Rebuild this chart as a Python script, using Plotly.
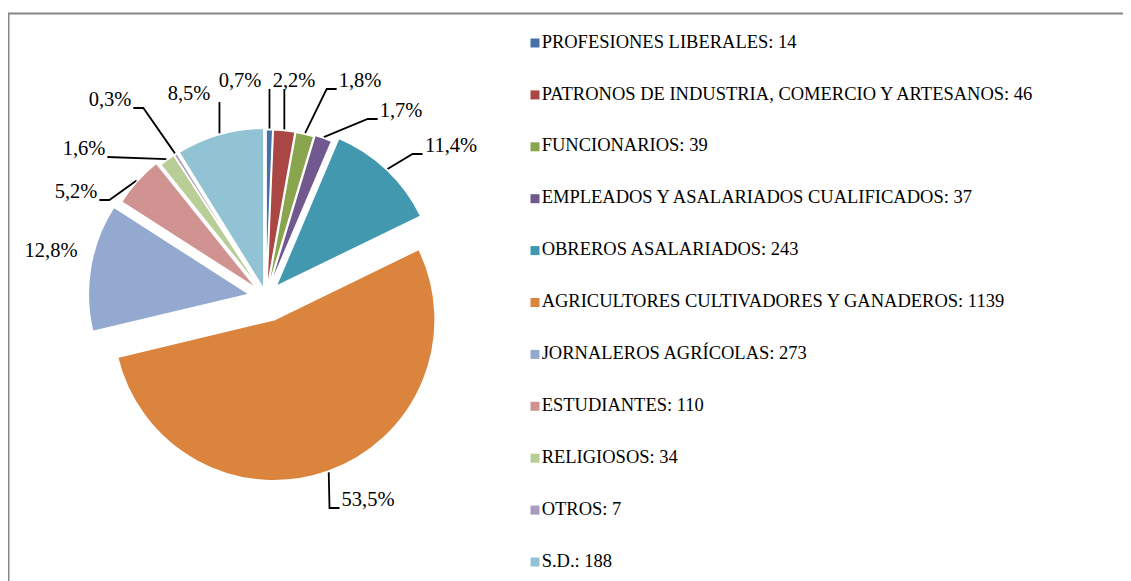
import math
import plotly.graph_objects as go

# Datos
categorias = [
    "PROFESIONES LIBERALES",
    "PATRONOS DE INDUSTRIA, COMERCIO Y ARTESANOS",
    "FUNCIONARIOS",
    "EMPLEADOS Y ASALARIADOS CUALIFICADOS",
    "OBREROS ASALARIADOS",
    "AGRICULTORES CULTIVADORES Y GANADEROS",
    "JORNALEROS AGRÍCOLAS",
    "ESTUDIANTES",
    "RELIGIOSOS",
    "OTROS",
    "S.D.",
]
valores = [14, 46, 39, 37, 243, 1139, 273, 110, 34, 7, 188]
porcentajes = ["0,7%", "2,2%", "1,8%", "1,7%", "11,4%", "53,5%",
               "12,8%", "5,2%", "1,6%", "0,3%", "8,5%"]

# Estilo
colores = ["#4572A7", "#AA4643", "#89A54E", "#71588F", "#4198AF", "#DB843D",
           "#93A9CF", "#D19392", "#B9CD96", "#A99BBD", "#92C3D4"]
pulls = [0.04, 0.04, 0.04, 0.05, 0.09, 0.15, 0.105, 0.075, 0.05, 0.05, 0.05]

W, H = 1131, 581
OFF = 8                            # margen del <body> en la página
CX, CY, R = 266, 297, 161          # centro y radio de la tarta (px de pantalla)
FS_PCT, FS_LEY = 20.5, 18.5
FUENTE = "Liberation Serif, Times New Roman, serif"

# posiciones (centro del texto, px) de las etiquetas de porcentaje
pos_etiquetas = [(240, 82), (294, 82), (360, 82), (401, 112), (451, 147),
                 (368, 501), (51, 252), (76, 193), (84, 150), (110, 101),
                 (189, 95)]
ley_x, ley_y0, ley_paso = 535, 43, 51.9

half = R * (1 + max(pulls))
dom_x = [(CX - OFF - half) / W, (CX - OFF + half) / W]
dom_y = [(H - (CY - OFF + half)) / H, (H - (CY - OFF - half)) / H]

fig = go.Figure()

fig.add_trace(go.Pie(
    labels=categorias, values=valores, sort=False, direction="clockwise",
    rotation=0, pull=pulls, textinfo="none", hoverinfo="label+value+percent",
    marker=dict(colors=colores, line=dict(color="white", width=1.5)),
    domain=dict(x=dom_x, y=dom_y), showlegend=False,
))


def ancho(txt):
    w = {",": 0.25, "%": 0.833}
    return sum(w.get(c, 0.5) for c in txt) * FS_PCT


# líneas guía desde el borde de cada porción hasta su etiqueta
total = sum(valores)
lx, ly = [], []
acum = 0
for v, p, txt, (tx, ty) in zip(valores, pulls, porcentajes, pos_etiquetas):
    ang = math.radians((acum + v / 2) / total * 360)
    acum += v
    rr = R * (1 + p) + 1
    ax, ay = CX + rr * math.sin(ang), CY - rr * math.cos(ang)
    w = ancho(txt)
    izq, der, base = tx - w / 2, tx + w / 2, ty + 7
    if izq - 12 <= ax <= der + 12:
        pts = [(ax, ay), (ax, base)]
    elif ax < izq:
        pts = [(ax, ay), (izq - 12, base), (izq - 2, base)]
    else:
        pts = [(ax, ay), (der + 12, base), (der + 2, base)]
    if math.dist(pts[0], pts[-1]) < 20:
        continue
    lx += [q[0] for q in pts] + [None]
    ly += [q[1] for q in pts] + [None]

fig.add_trace(go.Scatter(
    x=lx, y=ly, mode="lines", line=dict(color="black", width=1.8),
    hoverinfo="skip", showlegend=False,
))

fig.add_trace(go.Scatter(
    x=[q[0] for q in pos_etiquetas], y=[q[1] for q in pos_etiquetas],
    mode="text", text=porcentajes, textposition="middle center",
    textfont=dict(family=FUENTE, size=FS_PCT, color="black"),
    hoverinfo="skip", showlegend=False,
))

# leyenda
fig.add_trace(go.Scatter(
    x=[ley_x] * len(categorias),
    y=[ley_y0 + ley_paso * i for i in range(len(categorias))],
    mode="markers+text",
    marker=dict(symbol="square", size=9, color=colores),
    text=[f"{c}: {v}" for c, v in zip(categorias, valores)],
    textposition="middle right",
    textfont=dict(family=FUENTE, size=FS_LEY, color="black"),
    hoverinfo="skip", showlegend=False,
))

fig.update_layout(
    width=W, height=H, margin=dict(l=0, r=0, t=0, b=0),
    paper_bgcolor="white", plot_bgcolor="rgba(0,0,0,0)",
    xaxis=dict(range=[OFF, W + OFF], visible=False, fixedrange=True, domain=[0, 1]),
    yaxis=dict(range=[H + OFF, OFF], visible=False, fixedrange=True, domain=[0, 1]),
    showlegend=False,
    shapes=[dict(type="rect", xref="paper", yref="paper",
                 x0=0.5 / W, y0=1 - 5.5 / H, x1=1.05, y1=-0.05,
                 line=dict(color="#878787", width=2))],
)

fig.write_html("out.html")
